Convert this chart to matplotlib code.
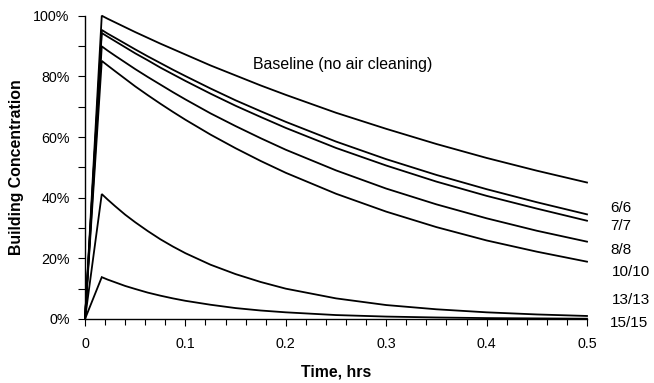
import matplotlib
matplotlib.use("Agg")
import matplotlib.pyplot as plt
from matplotlib.ticker import MultipleLocator, FuncFormatter

plt.rcParams['font.family'] = ['Liberation Sans', 'DejaVu Sans']

# Time grid (hours)
time_hrs = [0, 0.0167, 0.0225, 0.03, 0.04, 0.05, 0.0625, 0.075, 0.0875, 0.1,
            0.125, 0.15, 0.175, 0.2, 0.25, 0.3, 0.35, 0.4, 0.45, 0.5]

# Building concentration (%)
baseline = [0, 100.0, 99.0, 97.8, 96.2, 94.6, 92.7, 90.8, 89.0, 87.2,
            83.6, 80.3, 77.0, 73.9, 68.0, 62.7, 57.7, 53.1, 48.9, 45.0]
s6_6 = [0, 95.3, 94.1, 92.7, 90.8, 88.9, 86.6, 84.4, 82.2, 80.1,
        76.0, 72.1, 68.5, 65.0, 58.5, 52.7, 47.5, 42.8, 38.5, 34.5]
s7_7 = [0, 94.3, 93.1, 91.6, 89.6, 87.6, 85.3, 82.9, 80.7, 78.5,
        74.3, 70.3, 66.6, 63.0, 56.4, 50.6, 45.3, 40.6, 36.4, 32.4]
s8_8 = [0, 89.9, 88.5, 86.8, 84.6, 82.4, 79.8, 77.3, 74.8, 72.4,
        67.8, 63.6, 59.6, 55.8, 49.0, 43.0, 37.8, 33.2, 29.1, 25.5]
s10_10 = [0, 85.1, 83.6, 81.7, 79.2, 76.7, 73.8, 71.0, 68.3, 65.7,
          60.8, 56.3, 52.1, 48.2, 41.3, 35.4, 30.3, 25.9, 22.2, 18.9]
s13_13 = [0, 41.2, 39.4, 37.2, 34.4, 31.9, 29.0, 26.3, 23.9, 21.7,
          17.9, 14.8, 12.2, 10.0, 6.8, 4.6, 3.2, 2.2, 1.5, 1.0]
s15_15 = [0, 13.8, 13.0, 12.1, 10.9, 9.9, 8.7, 7.7, 6.8, 6.0,
          4.7, 3.6, 2.8, 2.2, 1.3, 0.8, 0.5, 0.3, 0.2, 0.1]

series = [baseline, s6_6, s7_7, s8_8, s10_10, s13_13, s15_15]
end_labels = ["6/6", "7/7", "8/8", "10/10", "13/13", "15/15"]
end_label_y = [36.6, 30.7, 22.9, 15.5, 6.2, -1.3]
end_label_x = [0.523, 0.523, 0.523, 0.525, 0.525, 0.523]
baseline_label = "Baseline (no air cleaning)"

fig = plt.figure(figsize=(6.54, 3.83), dpi=100)
ax = fig.add_axes([85 / 654, 1 - 319 / 383, (587 - 85) / 654, (319 - 15.7) / 383])

for s in series:
    ax.plot(time_hrs, s, color='black', lw=1.3, clip_on=False, solid_joinstyle='miter')

ax.set_xlim(0, 0.5)
ax.set_ylim(0, 100)

for sp in ['top', 'right']:
    ax.spines[sp].set_visible(False)
for sp in ['left', 'bottom']:
    ax.spines[sp].set_linewidth(1.0)

ax.xaxis.set_major_locator(MultipleLocator(0.1))
ax.xaxis.set_minor_locator(MultipleLocator(0.02))
ax.yaxis.set_major_locator(MultipleLocator(20))
ax.yaxis.set_minor_locator(MultipleLocator(10))
ax.xaxis.set_major_formatter(FuncFormatter(lambda v, p: "0" if abs(v) < 1e-9 else f"{v:.1f}"))
ax.yaxis.set_major_formatter(FuncFormatter(lambda v, p: f"{v:.0f}%"))

ax.tick_params(axis='both', which='both', direction='out', width=0.8, labelsize=10.3)
ax.tick_params(axis='x', which='major', length=5, pad=8)
ax.tick_params(axis='x', which='minor', length=4)
ax.tick_params(axis='y', which='major', length=5, pad=6)
ax.tick_params(axis='y', which='minor', length=5)

ax.set_xlabel("Time, hrs", fontsize=11.4, fontweight='bold')
ax.set_ylabel("Building Concentration", fontsize=11.4, fontweight='bold')
ax.xaxis.label.set_va('center')
ax.yaxis.label.set_va('center')
ax.xaxis.set_label_coords(0.5, -(372 - 319) / 303.3)
ax.yaxis.set_label_coords(-(85 - 17) / 502, 0.5)

for lab, x, y in zip(end_labels, end_label_x, end_label_y):
    ax.text(x, y, lab, fontsize=11, ha='left', va='center', clip_on=False)

ax.text(0.1673, 83.8, baseline_label, fontsize=11.4, ha='left', va='center')

fig.savefig("out.png", dpi=100)
